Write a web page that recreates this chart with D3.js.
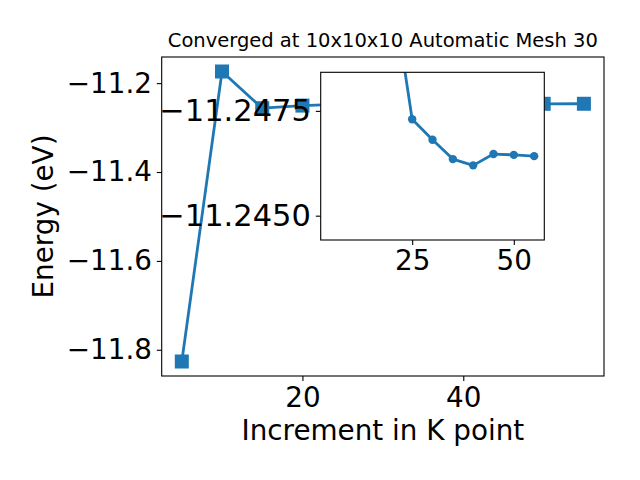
<!DOCTYPE html>
<html>
<head>
<meta charset="utf-8">
<script src="https://cdn.jsdelivr.net/npm/d3@7"></script>
<style>
  html, body { margin: 0; padding: 0; background: #fff; }
  svg { display: block; font-family: "DejaVu Sans", sans-serif; }
</style>
</head>
<body>
<svg id="chart" width="640" height="480"></svg>
<script>
// ---- data ----
const kpoints = [5, 10, 15, 20, 25, 30, 35, 40, 45, 50, 55];
const energy = [-11.8264, -11.1738, -11.2564, -11.2505, -11.24730, -11.24681, -11.24635, -11.24620, -11.24647, -11.24645, -11.24642];
const insetStart = 20; // inset plots from this k point onward
const mainXTicks = [20, 40];
const mainYTicks = [-11.8, -11.6, -11.4, -11.2];
const insetXTicks = [25, 50];
const insetYTicks = [-11.2475, -11.2450];
const insetYLim = [-11.24842, -11.24442]; // inverted axis (top = first)
const titleText = "Converged at 10x10x10 Automatic Mesh 30";
const xLabelText = "Increment in K point";
const yLabelText = "Energy (eV)";

const color = "#1f77b4";
const fmtMinus = s => String(s).replace("-", "\u2212");

const svg = d3.select("#chart");
const main = { l: 161.7, r: 604, t: 57, b: 376 };
const inset = { l: 320.7, r: 544.3, t: 72.3, b: 240 };

// matplotlib-like auto margins (5%)
const xExt = d3.extent(kpoints), yExt = d3.extent(energy);
const xPad = (xExt[1] - xExt[0]) * 0.05, yPad = (yExt[1] - yExt[0]) * 0.05;
const x = d3.scaleLinear().domain([xExt[0] - xPad, xExt[1] + xPad]).range([main.l, main.r]);
const y = d3.scaleLinear().domain([yExt[0] - yPad, yExt[1] + yPad]).range([main.b, main.t]);

const data = kpoints.map((k, i) => ({ k, e: energy[i] }));

svg.append("defs").append("clipPath").attr("id", "clipMain")
  .append("rect").attr("x", main.l).attr("y", main.t).attr("width", main.r - main.l).attr("height", main.b - main.t);

const gMain = svg.append("g").attr("clip-path", "url(#clipMain)");
gMain.append("path").datum(data)
  .attr("fill", "none").attr("stroke", color).attr("stroke-width", 2.8)
  .attr("stroke-linejoin", "round")
  .attr("d", d3.line().x(d => x(d.k)).y(d => y(d.e)));
const ms = 14;
gMain.selectAll("rect.m").data(data).join("rect").attr("class", "m")
  .attr("x", d => x(d.k) - ms / 2).attr("y", d => y(d.e) - ms / 2)
  .attr("width", ms).attr("height", ms).attr("fill", color);

// main frame
svg.append("rect").attr("x", main.l).attr("y", main.t).attr("width", main.r - main.l).attr("height", main.b - main.t)
  .attr("fill", "none").attr("stroke", "#000").attr("stroke-width", 1.1);

const tickFont = 27.8;
function styleAxis(g) {
  g.select(".domain").remove();
  g.selectAll(".tick line").attr("stroke", "#000").attr("stroke-width", 1.1);
  g.selectAll(".tick text").attr("fill", "#000").style("font-size", tickFont + "px").style("font-family", "DejaVu Sans");
}

svg.append("g").attr("transform", `translate(0,${main.b})`)
  .call(d3.axisBottom(x).tickValues(mainXTicks).tickSize(4.9).tickPadding(6.2).tickFormat(d => fmtMinus(d)))
  .call(styleAxis);
svg.append("g").attr("transform", `translate(${main.l},0)`)
  .call(d3.axisLeft(y).tickValues(mainYTicks).tickSize(4.9).tickPadding(4.9).tickFormat(d => fmtMinus(d3.format(".1f")(d))))
  .call(styleAxis);

// title and labels
svg.append("text").attr("x", (main.l + main.r) / 2).attr("y", 47.3).attr("text-anchor", "middle")
  .style("font-size", "19.5px").text(titleText);
svg.append("text").attr("x", (main.l + main.r) / 2).attr("y", 440).attr("text-anchor", "middle")
  .style("font-size", "27.8px").text(xLabelText);
svg.append("text").attr("transform", `translate(53,${(main.t + main.b) / 2}) rotate(-90)`).attr("text-anchor", "middle")
  .style("font-size", "27.8px").text(yLabelText);

// ---- inset ----
const xi = d3.scaleLinear().domain(x.domain()).range([inset.l, inset.r]);
const yi = d3.scaleLinear().domain(insetYLim).range([inset.t, inset.b]);
const insetData = data.filter(d => d.k >= insetStart);

svg.append("rect").attr("x", inset.l).attr("y", inset.t).attr("width", inset.r - inset.l).attr("height", inset.b - inset.t)
  .attr("fill", "#fff");
svg.select("defs").append("clipPath").attr("id", "clipInset")
  .append("rect").attr("x", inset.l).attr("y", inset.t).attr("width", inset.r - inset.l).attr("height", inset.b - inset.t);
const gIn = svg.append("g").attr("clip-path", "url(#clipInset)");
gIn.append("path").datum(insetData)
  .attr("fill", "none").attr("stroke", color).attr("stroke-width", 2.8).attr("stroke-linejoin", "round")
  .attr("d", d3.line().x(d => xi(d.k)).y(d => yi(d.e)));
gIn.selectAll("circle").data(insetData).join("circle")
  .attr("cx", d => xi(d.k)).attr("cy", d => yi(d.e)).attr("r", 4.2).attr("fill", color);

svg.append("rect").attr("x", inset.l).attr("y", inset.t).attr("width", inset.r - inset.l).attr("height", inset.b - inset.t)
  .attr("fill", "none").attr("stroke", "#000").attr("stroke-width", 1.1);

svg.append("g").attr("transform", `translate(0,${inset.b})`)
  .call(d3.axisBottom(xi).tickValues(insetXTicks).tickSize(4.9).tickPadding(5.6).tickFormat(d => fmtMinus(d)))
  .call(styleAxis);
const yAxIn = svg.append("g").attr("transform", `translate(${inset.l},0)`)
  .call(d3.axisLeft(yi).tickValues(insetYTicks).tickSize(4.9).tickPadding(4.9).tickFormat(d => fmtMinus(d3.format(".4f")(d))))
  .call(styleAxis);
yAxIn.selectAll(".tick text").style("font-size", "30.5px");
</script>
</body>
</html>
